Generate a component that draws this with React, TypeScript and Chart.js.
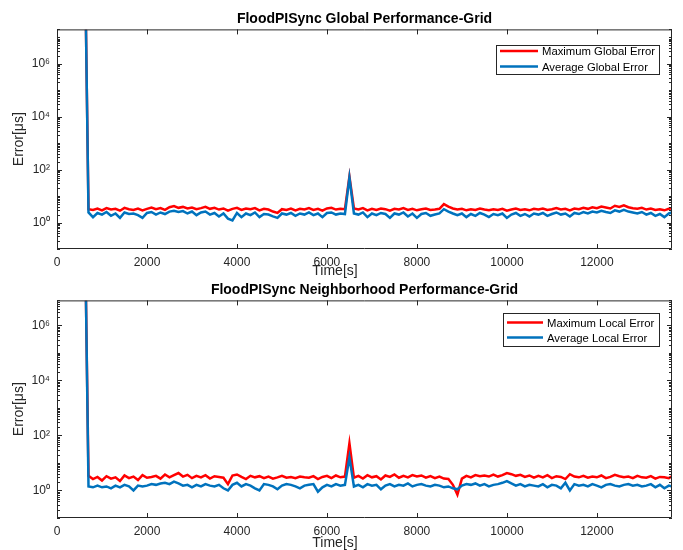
import { useEffect, useRef } from 'react';
import { Chart, registerables } from 'chart.js';

Chart.register(...registerables);
Chart.defaults.font.family = '"Liberation Sans", Arial, Helvetica, sans-serif';

// ---------- data ----------
const times = [
  644,
  700, 800, 900, 1000, 1100, 1200, 1300, 1400, 1500, 1600,
  1700, 1800, 1900, 2000, 2100, 2200, 2300, 2400, 2500, 2600,
  2700, 2800, 2900, 3000, 3100, 3200, 3300, 3400, 3500, 3600,
  3700, 3800, 3900, 4000, 4100, 4200, 4300, 4400, 4500, 4600,
  4700, 4800, 4900, 5000, 5100, 5200, 5300, 5400, 5500, 5600,
  5700, 5800, 5900, 6000, 6100, 6200, 6300, 6400, 6500, 6600,
  6700, 6800, 6900, 7000, 7100, 7200, 7300, 7400, 7500, 7600,
  7700, 7800, 7900, 8000, 8100, 8200, 8300, 8400, 8500, 8600,
  8700, 8800, 8900, 9000, 9100, 9200, 9300, 9400, 9500, 9600,
  9700, 9800, 9900, 10000, 10100, 10200, 10300, 10400, 10500, 10600,
  10700, 10800, 10900, 11000, 11100, 11200, 11300, 11400, 11500, 11600,
  11700, 11800, 11900, 12000, 12100, 12200, 12300, 12400, 12500, 12600,
  12700, 12800, 12900, 13000, 13100, 13200, 13300, 13400, 13500, 13600,
  13670,
];

const maxGlobal = [
  2e7,
  3.2, 3.0, 3.4, 2.9, 3.5, 3.1, 3.3, 2.8, 3.6, 3.2,
  3.0, 3.4, 2.9, 3.3, 3.7, 3.2, 3.5, 3.0, 3.8, 4.2,
  3.6, 3.9, 3.4, 3.7, 3.2, 3.5, 3.9, 3.3, 3.6, 3.1,
  3.4, 2.8, 3.3, 3.6, 3.0, 3.4, 3.2, 3.5, 2.9, 3.3,
  3.1, 2.6, 2.3, 3.2, 3.0, 3.4, 2.9, 3.3, 3.1, 3.5,
  3.0, 3.3, 2.8, 3.4, 3.6, 3.1, 3.3, 3.2, 55, 3.4,
  3.1, 3.5, 2.9, 3.3, 3.0, 3.4, 3.2, 2.8, 3.3, 3.1,
  3.5, 3.0, 3.3, 2.9, 3.2, 3.4, 3.0, 3.1, 3.3, 5.0,
  4.0, 3.4, 3.1, 3.3, 2.9, 3.2, 3.0, 3.4, 3.1, 2.9,
  3.2, 3.0, 3.3, 2.8, 3.1, 3.4, 3.0, 3.2, 2.9, 3.3,
  3.1, 3.4, 3.0, 3.2, 3.5, 3.1, 3.3, 2.9, 3.4, 3.2,
  3.6, 3.3, 3.8, 3.5, 4.0, 3.7, 3.4, 4.3, 3.9, 4.5,
  3.8, 3.5, 3.3, 3.6, 3.1, 3.4, 3.0, 3.2, 2.9, 3.3,
  3.5,
];

const avgGlobal = [
  2e7,
  2.4, 1.6, 2.3, 2.0, 2.5, 1.8, 2.2, 1.5, 2.4, 2.1,
  2.2, 1.9, 1.5, 2.3, 2.5, 2.0, 2.4, 2.1, 2.6, 2.8,
  2.5, 2.7, 2.2, 2.6, 1.9, 2.4, 2.6, 2.0, 2.3, 1.7,
  2.2, 1.4, 1.2, 2.3, 1.6, 2.2, 1.9, 2.4, 1.6, 2.1,
  2.0, 1.7, 1.5, 2.2, 2.0, 2.3, 1.8, 2.2, 2.0, 2.4,
  1.9, 2.2, 1.6, 2.3, 2.4, 2.0, 2.2, 2.1, 50, 2.2,
  2.0, 2.4, 1.6, 2.2, 1.9, 2.3, 2.1, 1.5, 2.2, 2.0,
  2.4, 1.7, 2.2, 1.5, 2.1, 2.3, 1.8, 2.0, 2.2, 3.2,
  2.6, 2.2, 1.9, 2.2, 1.6, 2.1, 1.8, 2.3, 2.0, 1.6,
  2.1, 1.9, 2.2, 1.5, 2.0, 2.3, 1.8, 2.1, 1.7, 2.2,
  2.0, 2.3, 1.8, 2.1, 2.4, 2.0, 2.2, 1.7, 2.3, 2.1,
  2.5, 2.2, 2.6, 2.4, 2.8, 2.5, 2.3, 2.9, 2.6, 3.0,
  2.6, 2.4, 2.2, 2.5, 2.0, 2.3, 1.8, 2.1, 1.6, 2.2,
  2.4,
];

const maxLocal = [
  8e6,
  3.4, 2.6, 3.1, 2.3, 3.3, 2.7, 3.0, 2.2, 3.5, 2.8,
  3.2, 2.4, 3.6, 2.9, 3.1, 3.4, 2.7, 3.8, 3.0, 3.6,
  4.3, 3.2, 3.7, 2.8, 3.4, 3.0, 3.6, 2.7, 3.3, 3.1,
  2.9, 1.7, 3.5, 3.8, 3.1, 2.6, 3.4, 3.0, 3.3, 2.8,
  3.2, 2.7, 3.0, 3.4, 2.9, 3.1, 2.8, 3.2, 3.0, 2.9,
  3.3, 2.6, 3.1, 3.4, 2.8, 3.5, 3.0, 3.2, 52, 2.9,
  3.4, 2.7, 3.6, 3.0, 3.3, 2.5, 3.5, 3.1, 3.8, 2.9,
  3.4, 3.0, 3.6, 3.2, 3.5, 2.9, 3.3, 2.8, 3.2, 2.7,
  2.6, 1.6, 0.7, 2.7, 3.4, 3.0, 3.6, 3.3, 3.5, 3.2,
  3.8, 3.2, 3.6, 4.3, 3.9, 3.4, 3.7, 3.1, 3.5, 2.9,
  3.4, 3.0, 3.6, 2.8, 3.3, 3.1, 2.6, 3.9, 3.2, 3.0,
  3.4, 2.9, 3.2, 3.0, 3.5, 2.8, 3.1, 3.7, 3.3, 3.0,
  3.2, 2.8, 3.4, 3.0, 2.9, 3.3, 2.7, 3.1, 3.0, 2.8,
  3.3,
];

const avgLocal = [
  8e6,
  1.4, 1.3, 1.5, 1.3, 1.4, 1.2, 1.5, 1.3, 1.6, 1.4,
  1.0, 1.5, 1.4, 1.5, 1.7, 1.6, 1.8, 1.9, 1.7, 2.1,
  1.8, 1.5, 1.6, 1.3, 1.6, 1.4, 1.7, 1.5, 1.4, 1.6,
  1.2, 1.0, 1.6, 1.9, 1.4, 1.7, 1.5, 1.2, 1.0, 1.7,
  1.6, 1.4, 1.1, 1.5, 1.7, 1.6, 1.4, 1.2, 1.5, 1.6,
  1.7, 0.9, 1.3, 1.6, 1.4, 1.7, 1.5, 1.6, 16, 1.4,
  1.6, 1.3, 1.7, 1.5, 1.6, 1.1, 1.5, 1.7, 1.4, 1.6,
  1.5, 1.8, 1.4, 1.6, 1.7, 1.5, 1.4, 1.6, 1.5, 1.3,
  1.4, 1.2, 1.1, 1.5, 1.7, 1.6, 1.8, 1.5, 1.7, 1.4,
  1.6, 1.7, 1.9, 2.2, 1.8, 1.5, 1.7, 1.4, 1.6, 1.5,
  1.4, 1.7, 1.3, 1.6, 1.5, 1.2, 1.9, 1.0, 1.7, 1.5,
  1.6, 1.4, 1.7, 1.5, 1.3, 1.6, 1.7, 1.5, 1.4, 1.6,
  1.7, 1.5, 1.6, 1.4, 1.5, 1.7, 1.3, 1.6, 1.2, 1.5,
  1.4,
];

const xTicks = [0, 2000, 4000, 6000, 8000, 10000, 12000];
const yTicks = [1, 100, 10000, 1000000];
const yTickLabels = ['10⁰', '10²', '10⁴', '10⁶'];

const RED = '#FF0000';
const BLUE = '#0072BD';
const AXIS = '#262626';
const FONT = '"Liberation Sans", Arial, Helvetica, sans-serif';

// ---------- plugins ----------
const framePlugin = {
  id: 'matlabFrame',
  afterDatasetsDraw(chart: any) {
    const { ctx, chartArea } = chart;
    const { left, right, top, bottom } = chartArea;
    const x = chart.scales.x;
    const y = chart.scales.y;
    ctx.save();
    ctx.strokeStyle = AXIS;
    ctx.lineWidth = 1;
    ctx.beginPath();
    ctx.rect(left + 0.5, top + 0.5, right - left - 1, bottom - top - 1);
    for (const t of xTicks) {
      const px = Math.round(x.getPixelForValue(t)) + 0.5;
      ctx.moveTo(px, bottom);
      ctx.lineTo(px, bottom - 5);
      ctx.moveTo(px, top);
      ctx.lineTo(px, top + 5);
    }
    for (let d = -1; d <= 7; d++) {
      for (let k = 1; k <= 9; k++) {
        const v = k * Math.pow(10, d);
        if (v < y.min || v > y.max) continue;
        const major = k === 1 && yTicks.includes(v);
        const len = major ? 5 : 3;
        const py = Math.round(y.getPixelForValue(v)) + 0.5;
        ctx.moveTo(left, py);
        ctx.lineTo(left + len, py);
        ctx.moveTo(right, py);
        ctx.lineTo(right - len, py);
      }
    }
    ctx.stroke();
    ctx.restore();
  },
};

const boxLegendPlugin = {
  id: 'boxLegend',
  afterDraw(chart: any, _args: any, opts: any) {
    const { ctx, chartArea } = chart;
    const x2 = chartArea.right - opts.rightGap;
    const x1 = x2 - opts.width;
    const y1 = chartArea.top + opts.topGap;
    ctx.save();
    ctx.fillStyle = '#ffffff';
    ctx.fillRect(x1, y1, opts.width, opts.height);
    ctx.strokeStyle = AXIS;
    ctx.lineWidth = 1;
    ctx.strokeRect(Math.round(x1) + 0.5, Math.round(y1) + 0.5, opts.width - 1, opts.height - 1);
    chart.data.datasets.forEach((d: any, i: number) => {
      const cy = y1 + opts.rows[i];
      ctx.strokeStyle = d.borderColor;
      ctx.lineWidth = 2.5;
      ctx.beginPath();
      ctx.moveTo(x1 + opts.lineStart, cy);
      ctx.lineTo(x1 + opts.lineStart + opts.lineLen, cy);
      ctx.stroke();
      ctx.fillStyle = '#000000';
      ctx.font = `${opts.fontSize}px ${FONT}`;
      ctx.textBaseline = 'middle';
      ctx.textAlign = 'left';
      ctx.fillText(d.label, x1 + opts.lineStart + opts.lineLen + opts.gap, cy + 1);
    });
    ctx.restore();
  },
};

const xLabelPlugin = {
  id: 'xLabel',
  afterDraw(chart: any, _args: any, opts: any) {
    const { ctx, chartArea } = chart;
    ctx.save();
    ctx.fillStyle = AXIS;
    ctx.font = `${opts.fontSize}px ${FONT}`;
    ctx.textAlign = 'center';
    ctx.textBaseline = 'middle';
    const cx = chartArea.left + opts.frac * (chartArea.right - chartArea.left);
    ctx.fillText(opts.text, cx, chartArea.bottom + opts.dy);
    ctx.restore();
  },
};

function makeConfig(p: any): any {
  return {
    type: 'line',
    data: {
      datasets: [
        {
          label: p.maxLabel,
          data: times.map((t, i) => ({ x: t, y: p.maxVals[i] })),
          borderColor: RED,
          backgroundColor: RED,
          borderWidth: 2.5,
          pointRadius: 0,
          tension: 0,
          order: 1,
        },
        {
          label: p.avgLabel,
          data: times.map((t, i) => ({ x: t, y: p.avgVals[i] })),
          borderColor: BLUE,
          backgroundColor: BLUE,
          borderWidth: 2.5,
          pointRadius: 0,
          tension: 0,
          order: 0,
        },
      ],
    },
    options: {
      responsive: false,
      animation: false,
      events: [],
      layout: { padding: { left: 0, right: 11, top: 0, bottom: 0 } },
      plugins: {
        legend: { display: false },
        tooltip: { enabled: false },
        title: {
          display: true,
          fullSize: false,
          text: p.title,
          color: '#000000',
          font: { size: 14, weight: 'bold' },
          padding: { top: p.titleTop, bottom: p.titleBottom },
        },
        boxLegend: p.legend,
        xLabel: { text: 'Time[s]', fontSize: 14, frac: 0.452, dy: p.xLabelDy },
      },
      scales: {
        x: {
          type: 'linear',
          min: 0,
          max: 13670,
          grid: { display: false, drawTicks: false },
          border: { display: false },
          ticks: {
            color: AXIS,
            font: { size: 12 },
            padding: p.xTickPad,
            maxRotation: 0,
            autoSkip: false,
            callback: (v: any) => String(v),
          },
          afterBuildTicks: (s: any) => {
            s.ticks = xTicks.map((v) => ({ value: v }));
          },
          afterFit: (s: any) => {
            s.height = p.xHeight;
          },
        },
        y: {
          type: 'logarithmic',
          min: 0.1,
          max: p.yMax,
          grid: { display: false, drawTicks: false },
          border: { display: false },
          ticks: {
            color: AXIS,
            font: { size: 12 },
            padding: 7,
            autoSkip: false,
            callback: (v: any) => {
              const idx = yTicks.indexOf(v);
              return idx >= 0 ? yTickLabels[idx] : '';
            },
          },
          afterBuildTicks: (s: any) => {
            s.ticks = yTicks.map((v) => ({ value: v }));
          },
          afterFit: (s: any) => {
            s.width = 57;
          },
          title: {
            display: true,
            text: 'Error[μs]',
            color: AXIS,
            font: { size: 14 },
            padding: { top: 10.6, bottom: 0 },
          },
        },
      },
    },
    plugins: [framePlugin, boxLegendPlugin, xLabelPlugin],
  };
}

export default function App() {
  const ref1 = useRef<HTMLCanvasElement>(null);
  const ref2 = useRef<HTMLCanvasElement>(null);

  useEffect(() => {
    const c1 = new Chart(
      ref1.current as HTMLCanvasElement,
      makeConfig({
        title: 'FloodPISync Global Performance-Grid',
        maxLabel: 'Maximum Global Error',
        avgLabel: 'Average Global Error',
        maxVals: maxGlobal,
        avgVals: avgGlobal,
        yMax: 2e7,
        titleTop: 10.8,
        titleBottom: 1.8,
        xHeight: 31,
        xTickPad: 6,
        xLabelDy: 22,
        legend: {
          rightGap: 12,
          topGap: 16,
          width: 164,
          height: 30,
          rows: [5.5, 21],
          lineStart: 4,
          lineLen: 38,
          gap: 4,
          fontSize: 11.3,
        },
      })
    );
    const c2 = new Chart(
      ref2.current as HTMLCanvasElement,
      makeConfig({
        title: 'FloodPISync Neighborhood Performance-Grid',
        maxLabel: 'Maximum Local Error',
        avgLabel: 'Average Local Error',
        maxVals: maxLocal,
        avgVals: avgLocal,
        yMax: 8e6,
        titleTop: 1.8,
        titleBottom: 1.8,
        xHeight: 32,
        xTickPad: 6.8,
        xLabelDy: 25,
        legend: {
          rightGap: 12,
          topGap: 13,
          width: 157,
          height: 34,
          rows: [9, 24],
          lineStart: 4,
          lineLen: 36,
          gap: 4,
          fontSize: 11.3,
        },
      })
    );
    return () => {
      c1.destroy();
      c2.destroy();
    };
  }, []);

  return (
    <div style={{ position: 'absolute', left: 0, top: 0, width: 683, height: 550, background: '#ffffff' }}>
      <canvas
        ref={ref1}
        width={683}
        height={280}
        style={{ position: 'absolute', left: 0, top: 0, width: 683, height: 280 }}
      />
      <canvas
        ref={ref2}
        width={683}
        height={270}
        style={{ position: 'absolute', left: 0, top: 280, width: 683, height: 270 }}
      />
    </div>
  );
}
